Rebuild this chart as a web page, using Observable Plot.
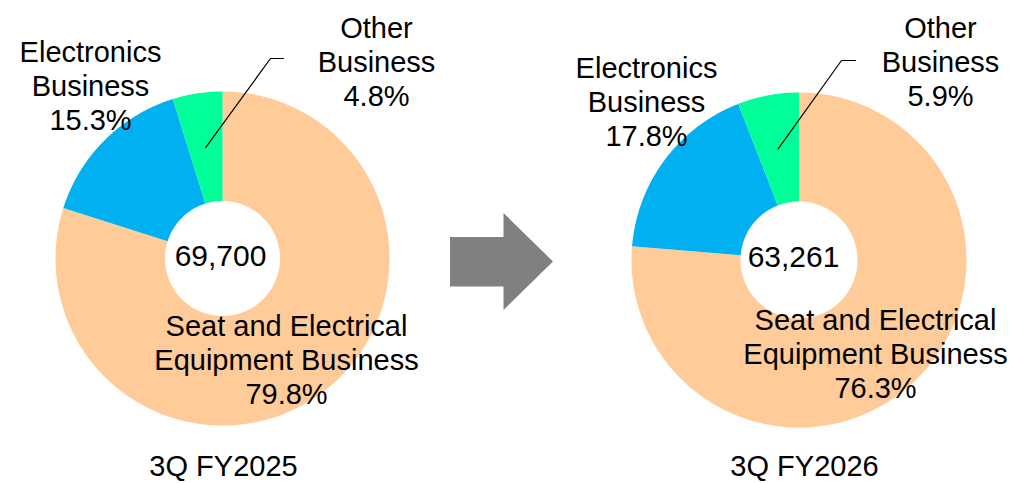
<!DOCTYPE html>
<html>
<head>
<meta charset="utf-8">
<script src="https://cdn.jsdelivr.net/npm/d3@7"></script>
<script src="https://cdn.jsdelivr.net/npm/@observablehq/plot@0.6"></script>
<style>
  html, body { margin: 0; padding: 0; background: #fff; }
  #wrap { position: relative; width: 1011px; height: 483px; overflow: hidden; }
  #arrow { position: absolute; left: 450px; top: 213px; width: 103px; height: 97px; background: #808080;
    clip-path: polygon(0px 24px, 53.5px 24px, 53.5px 0px, 103px 48.5px, 53.5px 97px, 53.5px 73.5px, 0px 73.5px); }
</style>
</head>
<body>
<div id="wrap"><div id="arrow"></div></div>
<script>
// ---- data ----
const categories = ["Seat and Electrical Equipment Business", "Electronics Business", "Other Business"];
const categoryLabels = ["Seat and Electrical\nEquipment Business", "Electronics\nBusiness", "Other\nBusiness"];
const share2025 = [79.8, 15.3, 4.8];
const share2026 = [76.3, 17.8, 5.9];
const totals = [69700, 63261];
const periods = ["3Q FY2025", "3Q FY2026"];
const colors = ["#FFCC99", "#00B0F0", "#00FF99"];

// ---- layout (pixel positions) ----
const layout = [
  {cx: 222, cy: 258, r0: 57.5, r1: 167, totalX: 220, totalY: 256, periodX: 223, periodY: 466,
   labels: [[286, 359], [90, 85], [376, 61]], elbow: [270, 58], end: [283, 58]},
  {cx: 798.5, cy: 259.5, r0: 58.5, r1: 167.5, totalX: 793, totalY: 256.5, periodX: 804, periodY: 466,
   labels: [[875, 353], [646, 101], [940, 61]], elbow: [841, 60], end: [855, 60]}
];
const shares = [share2025, share2026];

const pie = d3.pie().sort(null).value(d => d);
const pt = (L, r, a) => [L.cx + r * Math.sin(a), L.cy - r * Math.cos(a)];

const slicePts = [];
const labelRows = [];
const leaderPts = [];
const totalRows = [];
const periodRows = [];
shares.forEach((vals, ci) => {
  const L = layout[ci];
  const arcs = pie(vals);
  arcs.forEach((a, i) => {
    const key = ci + "-" + i;
    const n = Math.max(4, Math.ceil((a.endAngle - a.startAngle) / (Math.PI / 360)));
    for (let k = 0; k <= n; k++) {
      const ang = a.startAngle + (a.endAngle - a.startAngle) * k / n;
      const [x, y] = pt(L, L.r1, ang);
      slicePts.push({key, cat: categories[i], x, y});
    }
    for (let k = n; k >= 0; k--) {
      const ang = a.startAngle + (a.endAngle - a.startAngle) * k / n;
      const [x, y] = pt(L, L.r0, ang);
      slicePts.push({key, cat: categories[i], x, y});
    }
    labelRows.push({x: L.labels[i][0], y: L.labels[i][1],
      text: categoryLabels[i] + "\n" + vals[i].toFixed(1) + "%"});
    if (i === 2) {
      const mid = (a.startAngle + a.endAngle) / 2;
      const [sx, sy] = pt(L, (L.r0 + L.r1) / 2, mid);
      leaderPts.push({key: ci, x: sx, y: sy});
      leaderPts.push({key: ci, x: L.elbow[0], y: L.elbow[1]});
      leaderPts.push({key: ci, x: L.end[0], y: L.end[1]});
    }
  });
  totalRows.push({x: L.totalX, y: L.totalY, text: d3.format(",")(totals[ci])});
  periodRows.push({x: L.periodX, y: L.periodY, text: periods[ci]});
});

const font = "'Liberation Sans', Arial, Helvetica, sans-serif";
const chart = Plot.plot({
  width: 1011,
  height: 483,
  margin: 0,
  style: {fontFamily: font, background: "transparent", overflow: "visible"},
  x: {domain: [0, 1011], range: [0, 1011], axis: null},
  y: {domain: [0, 483], range: [0, 483], axis: null},
  color: {domain: categories, range: colors},
  marks: [
    Plot.line(slicePts, {x: "x", y: "y", z: "key", fill: "cat", stroke: "none", curve: "linear"}),
    Plot.line(leaderPts, {x: "x", y: "y", z: "key", stroke: "black", strokeWidth: 1.2, curve: "linear"}),
    Plot.text(labelRows, {x: "x", y: "y", text: "text", fontSize: 29, lineHeight: 1.17,
      textAnchor: "middle", lineAnchor: "middle", fill: "black", fontFamily: font}),
    Plot.text(totalRows, {x: "x", y: "y", text: "text", fontSize: 30,
      textAnchor: "middle", lineAnchor: "middle", fill: "black", fontFamily: font}),
    Plot.text(periodRows, {x: "x", y: "y", text: "text", fontSize: 29,
      textAnchor: "middle", lineAnchor: "middle", fill: "black", fontFamily: font})
  ]
});
document.getElementById("wrap").appendChild(chart);
chart.style.position = "absolute";
chart.style.left = "0";
chart.style.top = "0";
</script>
</body>
</html>
